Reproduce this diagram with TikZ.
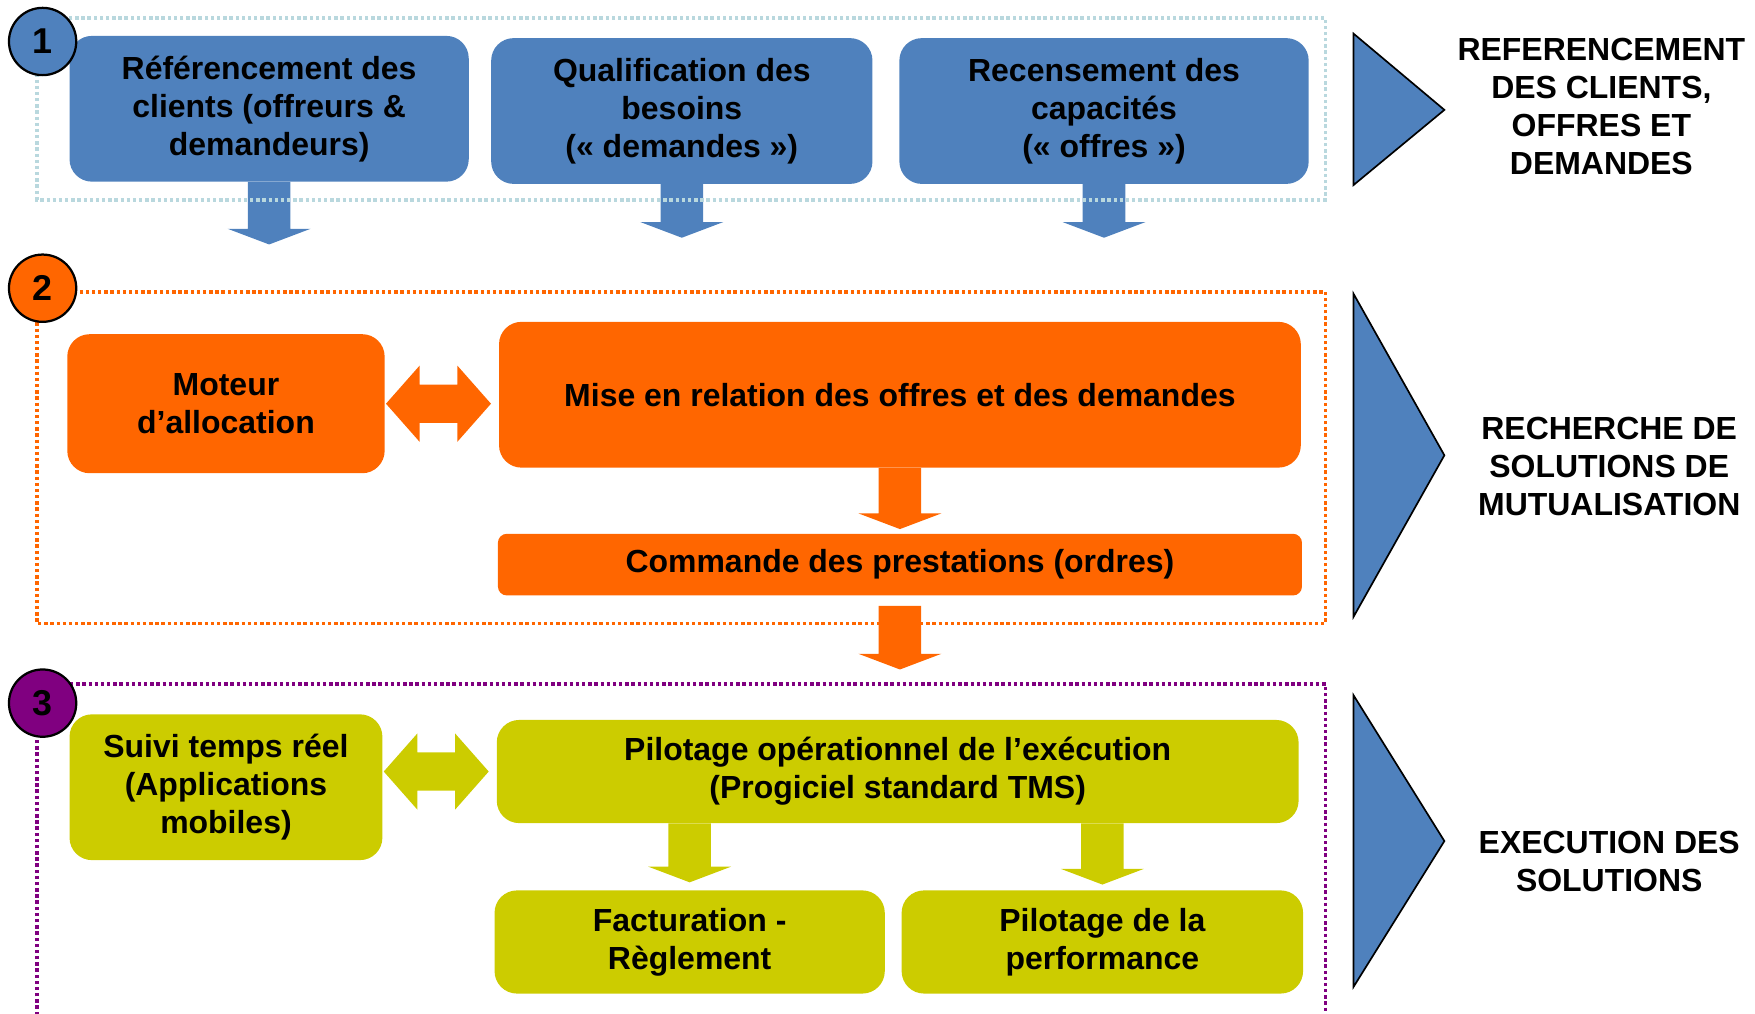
\documentclass[tikz,border=0pt]{standalone}
\usepackage{fontspec}
\setmainfont{Liberation Sans}
\usetikzlibrary{calc}
\definecolor{bleuM}{HTML}{4F81BD}
\definecolor{orangeM}{HTML}{FF6600}
\definecolor{oliveM}{HTML}{CCCC00}
\definecolor{violetM}{HTML}{800080}
\definecolor{bleuPale}{HTML}{B9D8DE}
\begin{document}
\begin{tikzpicture}[x=1pt, y=-1pt,
  box/.style={rounded corners=20pt, minimum height=130pt, inner sep=0pt, align=center, font=\fontsize{28.5}{34}\selectfont\bfseries},
  num node/.style={circle, draw, line width=2pt, minimum size=60pt, inner sep=0pt, font=\fontsize{32}{32}\selectfont\bfseries},
  phase/.style={align=center, font=\fontsize{28.5}{34}\selectfont\bfseries},
  frame/.style={line width=3.5pt, dash pattern=on 3pt off 2.5pt},
  tri/.style={fill=bleuM, draw=black, line width=1.5pt},
  fat down/.style={to path={let \p1=(\tikztostart), \p2=(\tikztotarget) in
    (\x1-19pt,\y1) -- (\x1-19pt,\y2+14pt) -- (\x1-37pt,\y2+14pt) -- (\x1,\y2)
    -- (\x1+37pt,\y2+14pt) -- (\x1+19pt,\y2+14pt) -- (\x1+19pt,\y1) -- cycle}},
  fat both/.style={to path={let \p1=(\tikztostart), \p2=(\tikztotarget) in
    (\x1+1pt,\y1) -- (\x1+31pt,\y1+34pt) -- (\x1+31pt,\y1+17pt) -- (\x2-37pt,\y1+17pt)
    -- (\x2-37pt,\y1+34pt) -- (\x2-7pt,\y1) -- (\x2-37pt,\y1-34pt) -- (\x2-37pt,\y1-17pt)
    -- (\x1+31pt,\y1-17pt) -- (\x1+31pt,\y1-34pt) -- cycle}}]
\useasboundingbox (0,0) rectangle (1565,904);

% phase 1
\node[box, fill=bleuM, minimum width=356pt] (refc) at (240,97) {Référencement des\\clients (offreurs \&\\demandeurs)};
\node[box, fill=bleuM, minimum width=340pt] (qual) at (608,99) {Qualification des\\besoins\\(« demandes »)};
\node[box, fill=bleuM, minimum width=365pt] (recs) at (984.5,99) {Recensement des\\capacités\\(« offres »)};
\coordinate (tA) at (240,218);
\coordinate (tB) at (608,212);
\coordinate (tC) at (984.5,212);
\fill[bleuM] (refc.south) to[fat down] (tA);
\fill[bleuM] (qual.south) to[fat down] (tB);
\fill[bleuM] (recs.south) to[fat down] (tC);

% phase 2
\node[box, fill=orangeM, minimum width=283pt, minimum height=124pt] (moteur) at (201.5,360) {Moteur\\d’allocation};
\node[box, fill=orangeM, minimum width=715pt] (mise) at (802.5,352) {Mise en relation des offres et des demandes};
\node[box, fill=orangeM, minimum width=717pt, minimum height=55pt, rounded corners=8pt] (cmd) at (802.5,503.5) {Commande des prestations (ordres)};
\coordinate (t3) at (802.5,597);
\fill[orangeM] (moteur.east) to[fat both] (mise.west);
\fill[orangeM] (mise.south) to[fat down] ([yshift=4pt]cmd.north);
\fill[orangeM] ([yshift=-9pt]cmd.south) to[fat down] (t3);

% phase 3
\node[box, fill=oliveM, minimum width=279pt] (suivi) at (201.5,702) {Suivi temps réel\\(Applications\\mobiles)};
\node[box, fill=oliveM, minimum width=715pt, minimum height=92pt] (pilop) at (800.5,688) {Pilotage opérationnel de l’exécution\\(Progiciel standard TMS)};
\node[box, fill=oliveM, minimum width=348pt, minimum height=92pt] (fact) at (615,840) {Facturation -\\Règlement};
\node[box, fill=oliveM, minimum width=358pt, minimum height=92pt] (perf) at (983,840) {Pilotage de la\\performance};
\fill[oliveM] ([yshift=14pt]suivi.east) to[fat both] (pilop.west);
\fill[oliveM] (fact.north |- pilop.south) to[fat down] ([yshift=7pt]fact.north);
\fill[oliveM] (perf.north |- pilop.south) to[fat down] ([yshift=5pt]perf.north);

% cadres
\draw[frame, bleuPale] (33,16) rectangle (1182,178);
\draw[frame, orangeM] (33,260) rectangle (1182,556);
\draw[frame, violetM] (33,905) -- (33,610) -- (1182,610) -- (1182,905);
\node[num node, fill=bleuM] (n1) at (38,37) {1};
\node[num node, fill=orangeM] (n2) at (38,257) {2};
\node[num node, fill=violetM] (n3) at (38,627) {3};

% phases
\draw[tri] (1207,30) -- (1288,98) -- (1207,165) -- cycle;
\draw[tri] (1207,262) -- (1288,406) -- (1207,550) -- cycle;
\draw[tri] (1207,620) -- (1288,750) -- (1207,880) -- cycle;
\node[phase] (lab1) at (1428,95) {REFERENCEMENT\\DES CLIENTS,\\OFFRES ET\\DEMANDES};
\node[phase] (lab2) at (1435,416) {RECHERCHE DE\\SOLUTIONS DE\\MUTUALISATION};
\node[phase] (lab3) at (1435,768) {EXECUTION DES\\SOLUTIONS};
\end{tikzpicture}
\end{document}
